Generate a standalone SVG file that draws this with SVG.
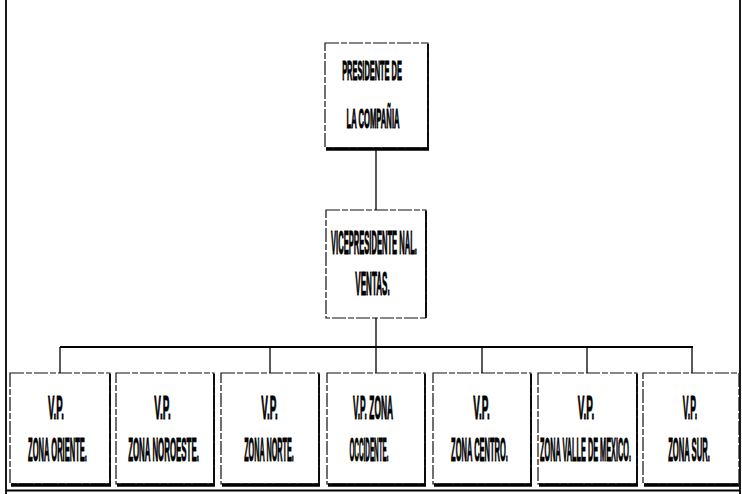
<svg xmlns="http://www.w3.org/2000/svg" width="742" height="494" viewBox="0 0 742 494">
<style>
.box{fill:#fff;stroke:#111;stroke-width:1.2;stroke-dasharray:14 2 6 2}
.sh{fill:none;stroke:#000;stroke-width:3.5}
.shr{fill:none;stroke:#000;stroke-width:1.8}
.t{font-family:"Liberation Sans",Arial,sans-serif;font-weight:bold;fill:#000;text-anchor:middle;font-size:34px;stroke:#000;stroke-width:0.8px;vector-effect:non-scaling-stroke}
.p{font-size:28px}
.c{fill:none;stroke:#000;stroke-width:1.3}
.frame{fill:none;stroke:#000;stroke-width:1.8}
</style>
<rect width="742" height="494" fill="#fff"/>
<g id="frame">
<line class="frame" x1="6" y1="0" x2="6" y2="494"/>
<line class="frame" x1="740" y1="0" x2="740" y2="494"/>
<line class="frame" x1="6" y1="490.5" x2="740" y2="490.5"/>
</g>
<g id="connectors">
<line class="c" x1="376" y1="150" x2="376" y2="210"/>
<line class="c" x1="376" y1="318" x2="376" y2="347"/>
<line class="c" x1="60" y1="347" x2="693" y2="347" style="stroke-width:2.2"/>
<line class="c" x1="60" y1="347" x2="60" y2="373"/>
<line class="c" x1="270" y1="347" x2="270" y2="373"/>
<line class="c" x1="376" y1="347" x2="376" y2="373"/>
<line class="c" x1="482" y1="347" x2="482" y2="373"/>
<line class="c" x1="587" y1="347" x2="587" y2="373"/>
<line class="c" x1="692" y1="347" x2="692" y2="373"/>
</g>
<g id="presidente">
<rect class="box" x="325" y="43" width="103" height="105"/>
<line class="sh" x1="326" y1="149" x2="429" y2="149"/>
<line class="shr" x1="428" y1="44" x2="428" y2="150"/>
<text class="t p" transform="translate(372,80) scale(0.265,1)">PRESIDENTE DE</text>
<text class="t p" transform="translate(373,128) scale(0.273,1)">LA COMPAÑIA</text>
</g>
<g id="vicepresidente">
<rect class="box" x="326" y="210" width="100" height="108"/>
<line class="shr" x1="426" y1="211" x2="426" y2="318"/>
<text class="t" transform="translate(374,254) scale(0.223,1)">VICEPRESIDENTE NAL.</text>
<text class="t" transform="translate(372.5,295) scale(0.237,1)">VENTAS.</text>
</g>
<g id="vp-oriente">
<rect class="box" x="10" y="373" width="100" height="111"/>
<line class="sh" x1="11" y1="485" x2="111" y2="485"/>
<line class="shr" x1="110" y1="374" x2="110" y2="485"/>
<text class="t" transform="translate(56,419) scale(0.283,1)">V.P.</text>
<text class="t" transform="translate(57.5,461) scale(0.222,1)">ZONA ORIENTE.</text>
</g>
<g id="vp-noroeste">
<rect class="box" x="116" y="373" width="98" height="111"/>
<line class="sh" x1="117" y1="485" x2="215" y2="485"/>
<line class="shr" x1="214" y1="374" x2="214" y2="485"/>
<text class="t" transform="translate(162.5,419) scale(0.292,1)">V.P.</text>
<text class="t" transform="translate(163.5,461) scale(0.232,1)">ZONA NOROESTE.</text>
</g>
<g id="vp-norte">
<rect class="box" x="221" y="373" width="98" height="111"/>
<line class="sh" x1="222" y1="485" x2="320" y2="485"/>
<line class="shr" x1="319" y1="374" x2="319" y2="485"/>
<text class="t" transform="translate(269.5,419) scale(0.292,1)">V.P.</text>
<text class="t" transform="translate(269,461) scale(0.213,1)">ZONA NORTE.</text>
</g>
<g id="vp-occidente">
<rect class="box" x="327" y="373" width="98" height="111"/>
<line class="sh" x1="328" y1="485" x2="426" y2="485"/>
<line class="shr" x1="425" y1="374" x2="425" y2="485"/>
<text class="t" transform="translate(373,419) scale(0.247,1)">V.P. ZONA</text>
<text class="t" transform="translate(369,461) scale(0.187,1)">OCCIDENTE.</text>
</g>
<g id="vp-centro">
<rect class="box" x="433" y="373" width="98" height="111"/>
<line class="sh" x1="434" y1="485" x2="532" y2="485"/>
<line class="shr" x1="531" y1="374" x2="531" y2="485"/>
<text class="t" transform="translate(481.5,419) scale(0.292,1)">V.P.</text>
<text class="t" transform="translate(479.5,461) scale(0.221,1)">ZONA CENTRO.</text>
</g>
<g id="vp-valle">
<rect class="box" x="538" y="373" width="99" height="111"/>
<line class="sh" x1="539" y1="485" x2="638" y2="485"/>
<line class="shr" x1="637" y1="374" x2="637" y2="485"/>
<text class="t" transform="translate(586,419) scale(0.292,1)">V.P.</text>
<text class="t" transform="translate(585.5,461) scale(0.215,1)">ZONA VALLE DE MEXICO.</text>
</g>
<g id="vp-sur">
<rect class="box" x="643" y="373" width="96" height="111"/>
<line class="sh" x1="644" y1="485" x2="739" y2="485"/>
<text class="t" transform="translate(690,419) scale(0.255,1)">V.P.</text>
<text class="t" transform="translate(689,461) scale(0.224,1)">ZONA SUR.</text>
</g>
</svg>
